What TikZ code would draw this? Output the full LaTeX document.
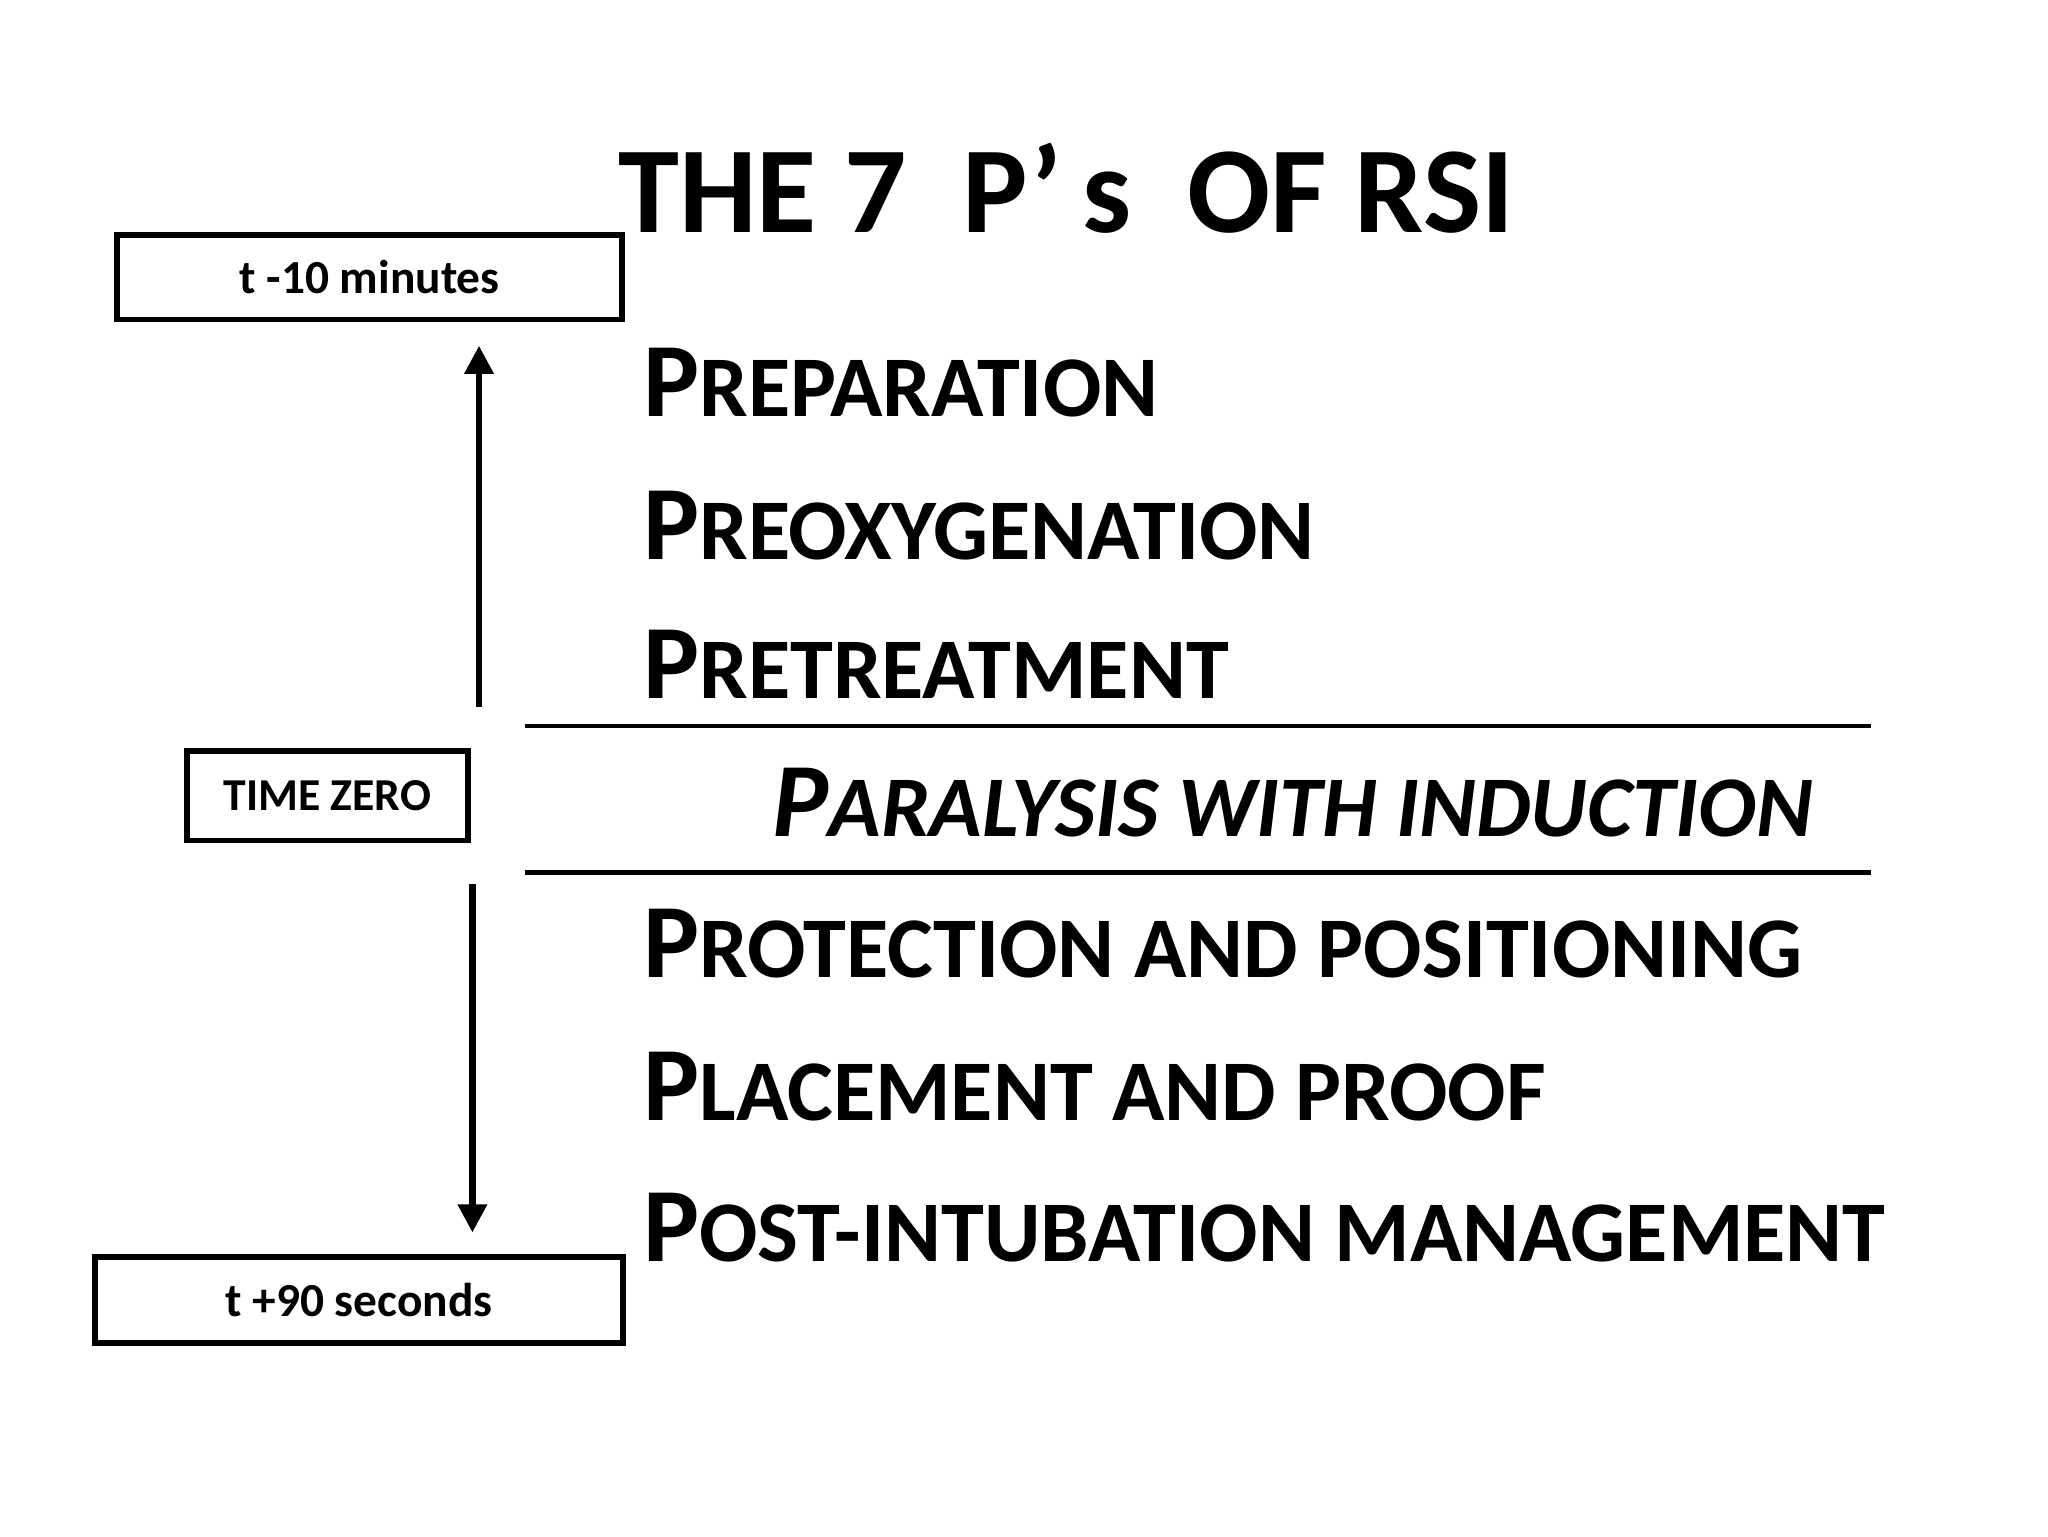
\documentclass[tikz,border=0pt]{standalone}
\usepackage{fontspec}
\setmainfont{Carlito}
\usetikzlibrary{arrows.meta}

% small caps made by hand: big first letter, smaller rest
\newcommand{\pcap}[2]{{\fontsize{30}{30}\selectfont #1}{\fontsize{24.6}{24.6}\selectfont #2}}

\tikzset{
  item/.style={anchor=base west,inner sep=0pt,font=\bfseries},
  tbox/.style={draw,line width=1.6pt,inner sep=0pt,font=\bfseries\fontsize{13.5}{13.5}\selectfont},
  rule/.style={line width=1.3pt},
  timearrow/.style={line width=1.8pt,-{Triangle[length=8pt,width=8pt]}}
}

\begin{document}
\begin{tikzpicture}[x=0.0132cm,y=-0.0132cm]
  \useasboundingbox (0,0) rectangle (1552,1164);

  \node[item,font=\bfseries\fontsize{35}{35}\selectfont] (title) at (468,176) {THE 7\ \ P\textquoteright\,s\ \ OF RSI};

  \node[item] (prep)  at (487,316) {\pcap{P}{REPARATION}};
  \node[item] (preox) at (487,424) {\pcap{P}{REOXYGENATION}};
  \node[item] (pret)  at (487,529) {\pcap{P}{RETREATMENT}};
  \node[item,font=\bfseries\itshape] (para) at (585,634) {\pcap{P}{ARALYSIS WITH INDUCTION}};
  \node[item] (prot)  at (487,741) {\pcap{P}{ROTECTION AND POSITIONING}};
  \node[item] (place) at (487,849) {\pcap{P}{LACEMENT AND PROOF}};
  \node[item] (post)  at (487,956) {\pcap{P}{OST-INTUBATION MANAGEMENT}};

  \draw[rule] (398,550) -- (1418,550);
  \draw[rule] (398,661) -- (1418,661);

  \node[tbox,minimum width=383*0.0132cm,minimum height=64*0.0132cm] (tminus) at (280,210) {t -10 minutes};
  \node[tbox,minimum width=213*0.0132cm,minimum height=68*0.0132cm] (tzero) at (248,603) {\fontsize{13}{13}\selectfont TIME ZERO};
  \node[tbox,minimum width=400*0.0132cm,minimum height=65*0.0132cm] (tplus) at (272,985) {t +90 seconds};

  \coordinate (upA) at (363,536);
  \coordinate (upB) at (363,262);
  \coordinate (dnA) at (358,670);
  \coordinate (dnB) at (358,934);
  \draw[timearrow] (upA) -- (upB);
  \draw[timearrow] (dnA) -- (dnB);
\end{tikzpicture}
\end{document}
